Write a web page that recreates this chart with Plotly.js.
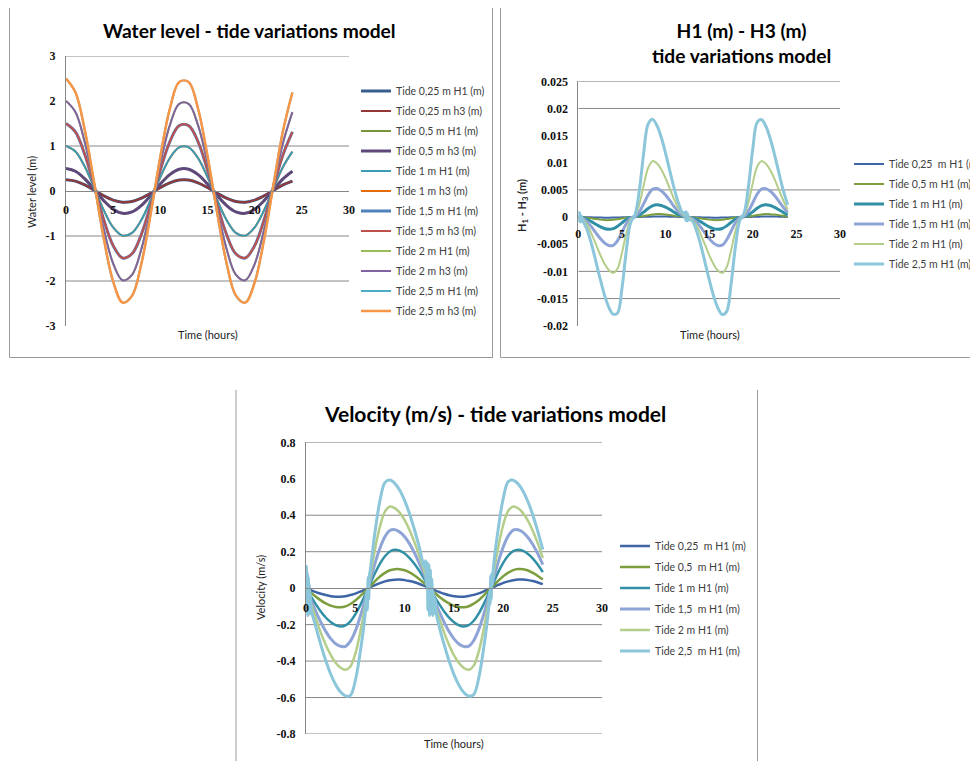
<!DOCTYPE html>
<html><head><meta charset="utf-8">
<script src="https://cdn.plot.ly/plotly-3.0.1.min.js"></script>
<style>html,body{margin:0;padding:0;background:#fff;}#chart{width:970px;height:761px;}</style>
</head><body><div id="chart"></div>
<script>
// ---------------- data ----------------
const xTicks = [0,5,10,15,20,25,30];
const xTickText = ['0','5','10','15','20','25','30'];
const wlTicks = [3,2,1,0,-1,-2,-3];
const wlTickText = ['3','2','1','0','-1','-2','-3'];
const dTicks = [0.025,0.02,0.015,0.01,0.005,0,-0.005,-0.01,-0.015,-0.02];
const dTickText = ['0.025','0.02','0.015','0.01','0.005','0','-0.005','-0.01','-0.015','-0.02'];
const vTicks = [0.8,0.6,0.4,0.2,0,-0.2,-0.4,-0.6,-0.8];
const vTickText = ['0.8','0.6','0.4','0.2','0','-0.2','-0.4','-0.6','-0.8'];
const wlGrid = [3,1,-1,-2];
const dGrid = [0.025,0.02,0.005,-0.01,-0.015];
const vGrid = [0.8,0.4,0.2,-0.2,-0.4,-0.6,-0.8];

const hours = [0,1,2,3,4,5,6,7,8,9,10,11,12,13,14,15,16,17,18,19,20,21,22,23,24];
const halfHours = [0,0.5,1,1.5,2,2.5,3,3.5,4,4.5,5,5.5,6,6.5,7,7.5,8,8.5,9,9.5,10,10.5,11,11.5,12,12.5,13,13.5,14,14.5,15,15.5,16,16.5,17,17.5,18,18.5,19,19.5,20,20.5,21,21.5,22,22.5,23,23.5,24];

// Water level (m)
const wlH1_025 = [0.25,0.219,0.134,0.016,-0.106,-0.202,-0.248,-0.232,-0.159,-0.047,0.077,0.182,0.242,0.242,0.182,0.077,-0.047,-0.159,-0.232,-0.248,-0.202,-0.106,0.016,0.134,0.219];
const wlh3_025 = [0.25,0.219,0.134,0.016,-0.106,-0.202,-0.248,-0.232,-0.159,-0.047,0.077,0.182,0.242,0.242,0.182,0.077,-0.047,-0.159,-0.232,-0.248,-0.202,-0.106,0.016,0.134,0.219];
const wlH1_05 = [0.5,0.438,0.268,0.031,-0.213,-0.405,-0.496,-0.465,-0.319,-0.094,0.155,0.365,0.484,0.484,0.365,0.155,-0.094,-0.319,-0.465,-0.496,-0.405,-0.213,0.031,0.268,0.438];
const wlh3_05 = [0.5,0.438,0.268,0.032,-0.213,-0.405,-0.496,-0.465,-0.319,-0.095,0.155,0.365,0.484,0.484,0.365,0.155,-0.094,-0.319,-0.465,-0.496,-0.405,-0.214,0.031,0.268,0.438];
const wlH1_1 = [1,0.876,0.536,0.063,-0.426,-0.809,-0.992,-0.93,-0.637,-0.187,0.309,0.729,0.969,0.969,0.729,0.309,-0.187,-0.637,-0.93,-0.992,-0.809,-0.426,0.063,0.536,0.876];
const wlh3_1 = [1,0.876,0.537,0.065,-0.424,-0.808,-0.992,-0.93,-0.639,-0.189,0.307,0.728,0.969,0.969,0.73,0.311,-0.185,-0.635,-0.93,-0.992,-0.81,-0.428,0.061,0.535,0.876];
const wlH1_15 = [1.5,1.314,0.804,0.094,-0.639,-1.214,-1.488,-1.395,-0.956,-0.281,0.464,1.094,1.453,1.453,1.094,0.464,-0.281,-0.956,-1.395,-1.488,-1.214,-0.639,0.094,0.804,1.314];
const wlh3_15 = [1.5,1.315,0.807,0.099,-0.634,-1.211,-1.488,-1.396,-0.96,-0.286,0.46,1.092,1.453,1.453,1.096,0.468,-0.276,-0.952,-1.394,-1.488,-1.217,-0.644,0.089,0.801,1.313];
const wlH1_2 = [2,1.753,1.072,0.126,-0.852,-1.618,-1.984,-1.86,-1.275,-0.375,0.618,1.458,1.937,1.937,1.458,0.618,-0.375,-1.275,-1.86,-1.984,-1.618,-0.852,0.126,1.072,1.753];
const wlh3_2 = [2,1.754,1.077,0.135,-0.842,-1.611,-1.984,-1.862,-1.284,-0.385,0.611,1.455,1.937,1.937,1.461,0.625,-0.365,-1.266,-1.857,-1.984,-1.624,-0.862,0.117,1.067,1.752];
const wlH1_25 = [2.5,2.191,1.34,0.157,-1.065,-2.023,-2.48,-2.325,-1.594,-0.469,0.773,1.823,2.422,2.422,1.823,0.773,-0.469,-1.594,-2.325,-2.48,-2.023,-1.065,0.157,1.34,2.191];
const wlh3_25 = [2.5,2.193,1.348,0.171,-1.047,-2.01,-2.479,-2.33,-1.611,-0.486,0.761,1.818,2.421,2.423,1.828,0.784,-0.452,-1.577,-2.319,-2.481,-2.036,-1.083,0.143,1.332,2.189];

// H1 - H3 (m)
const d025 = [0,-0.00001,-0.00002,-0.00005,-0.00007,-0.00009,-0.00011,-0.00011,-0.0001,-0.00007,-0.00004,-0.00002,0,0,0.00001,0.00004,0.00007,0.00009,0.00011,0.00011,0.0001,0.00008,0.00005,0.00003,0.00001,0,-0.00001,-0.00002,-0.00005,-0.00007,-0.0001,-0.00011,-0.00011,-0.00009,-0.00007,-0.00004,-0.00002,0,0,0.00002,0.00004,0.00007,0.00009,0.00011,0.00011,0.0001,0.00007,0.00005,0.00002];
const d05 = [0,-0.00003,-0.00011,-0.00023,-0.00036,-0.00047,-0.00054,-0.00056,-0.0005,-0.00038,-0.00023,-0.0001,-0.00001,0.00001,0.00008,0.00021,0.00035,0.00048,0.00055,0.00055,0.00048,0.00037,0.00024,0.00012,0.00003,0,-0.00003,-0.00011,-0.00023,-0.00036,-0.00047,-0.00054,-0.00056,-0.00049,-0.00037,-0.00022,-0.00009,-0.00001,0.00001,0.00009,0.00022,0.00037,0.00049,0.00056,0.00054,0.00047,0.00036,0.00023,0.00011];
const d10 = [0,-0.00011,-0.0004,-0.00083,-0.00132,-0.00177,-0.0021,-0.00225,-0.00213,-0.00169,-0.00106,-0.00045,-0.00007,0.00003,0.00035,0.00093,0.00157,0.00206,0.00225,0.00214,0.00183,0.00139,0.00089,0.00044,0.00012,0,-0.0001,-0.0004,-0.00084,-0.00134,-0.00179,-0.00212,-0.00225,-0.0021,-0.00163,-0.00099,-0.0004,-0.00005,0.00005,0.0004,0.00099,0.00163,0.0021,0.00225,0.00212,0.00179,0.00134,0.00084,0.0004];
const d15 = [0,-0.00022,-0.00086,-0.00179,-0.00287,-0.00391,-0.00474,-0.00522,-0.00522,-0.00434,-0.00282,-0.00123,-0.00019,0.00008,0.00096,0.00248,0.00407,0.00511,0.00526,0.00485,0.00406,0.00301,0.0019,0.00093,0.00026,0,-0.00021,-0.00085,-0.00179,-0.00289,-0.00396,-0.00479,-0.00524,-0.00517,-0.00421,-0.00265,-0.00109,-0.00013,0.00013,0.00109,0.00265,0.00421,0.00517,0.00524,0.00479,0.00396,0.0029,0.0018,0.00085];
const d20 = [0,-0.00037,-0.00144,-0.00304,-0.00495,-0.00689,-0.00858,-0.00977,-0.01029,-0.00948,-0.0066,-0.00301,-0.00047,0.00021,0.00237,0.00588,0.00904,0.0103,0.00991,0.00881,0.00716,0.0052,0.00324,0.00156,0.00043,0,-0.00035,-0.00142,-0.00305,-0.005,-0.00697,-0.00866,-0.00983,-0.0103,-0.00927,-0.00625,-0.00267,-0.00032,0.00032,0.00268,0.00625,0.00927,0.0103,0.00983,0.00867,0.00697,0.005,0.00305,0.00142];
const d25 = [0,-0.0006,-0.00231,-0.00491,-0.00807,-0.01134,-0.01432,-0.0166,-0.01788,-0.01766,-0.01316,-0.00625,-0.00099,0.00044,0.00494,0.01185,0.01711,0.018,0.0169,0.01473,0.01178,0.00846,0.00522,0.0025,0.00068,0,-0.00056,-0.00228,-0.00492,-0.00814,-0.01147,-0.01447,-0.01673,-0.01794,-0.01741,-0.01251,-0.00559,-0.00069,0.00069,0.00559,0.01251,0.01741,0.01794,0.01673,0.01447,0.01147,0.00813,0.00492,0.00228];
const d25NoiseT = [0.05,0.12,0.19,0.26,0.33,12.25,12.32,12.39,12.46,12.53,12.6];
const d25NoiseV = [0.0009,-0.0008,0.0007,-0.0009,0.0002,0.0009,-0.0006,0.001,-0.0007,0.0006,-0.0005];

// Velocity (m/s)
const vel025 = [0,-0.011,-0.022,-0.031,-0.038,-0.044,-0.047,-0.047,-0.044,-0.038,-0.03,-0.019,-0.007,0.005,0.017,0.028,0.037,0.043,0.046,0.047,0.044,0.039,0.032,0.023,0.012,0.001,-0.011,-0.021,-0.031,-0.039,-0.044,-0.047,-0.047,-0.043,-0.037,-0.029,-0.018,-0.006,0.006,0.018,0.029,0.037,0.043,0.047,0.047,0.044,0.039,0.031,0.022];
const vel05 = [0,-0.024,-0.047,-0.067,-0.084,-0.096,-0.103,-0.105,-0.1,-0.087,-0.068,-0.044,-0.017,0.011,0.039,0.064,0.084,0.098,0.104,0.104,0.098,0.086,0.069,0.049,0.026,0.001,-0.023,-0.047,-0.067,-0.084,-0.097,-0.104,-0.105,-0.099,-0.085,-0.066,-0.041,-0.014,0.014,0.041,0.066,0.085,0.099,0.105,0.104,0.097,0.084,0.067,0.047];
const vel10 = [0,-0.045,-0.089,-0.128,-0.161,-0.186,-0.203,-0.21,-0.204,-0.182,-0.144,-0.094,-0.036,0.024,0.083,0.135,0.175,0.201,0.21,0.205,0.19,0.165,0.132,0.093,0.049,0.002,-0.044,-0.088,-0.128,-0.162,-0.187,-0.204,-0.21,-0.203,-0.179,-0.14,-0.089,-0.03,0.03,0.089,0.14,0.179,0.203,0.21,0.204,0.187,0.162,0.128,0.088];
const vel15 = [0,-0.066,-0.129,-0.187,-0.237,-0.277,-0.305,-0.319,-0.319,-0.291,-0.235,-0.155,-0.06,0.04,0.137,0.22,0.282,0.316,0.321,0.308,0.282,0.243,0.193,0.135,0.071,0.003,-0.064,-0.129,-0.187,-0.238,-0.278,-0.306,-0.32,-0.318,-0.287,-0.228,-0.146,-0.05,0.05,0.146,0.228,0.287,0.318,0.32,0.306,0.278,0.238,0.188,0.129];
const vel20 = [0,-0.085,-0.167,-0.244,-0.311,-0.366,-0.409,-0.436,-0.448,-0.43,-0.359,-0.242,-0.095,0.064,0.215,0.339,0.42,0.448,0.439,0.414,0.373,0.318,0.251,0.174,0.091,0.004,-0.082,-0.166,-0.244,-0.312,-0.369,-0.411,-0.438,-0.448,-0.425,-0.349,-0.228,-0.08,0.08,0.228,0.349,0.425,0.448,0.438,0.411,0.369,0.312,0.244,0.166];
const vel25 = [0,-0.108,-0.213,-0.31,-0.397,-0.471,-0.529,-0.57,-0.591,-0.588,-0.507,-0.35,-0.139,0.093,0.311,0.481,0.579,0.593,0.575,0.537,0.48,0.407,0.319,0.221,0.115,0.006,-0.105,-0.211,-0.31,-0.399,-0.474,-0.532,-0.572,-0.592,-0.584,-0.495,-0.331,-0.116,0.116,0.331,0.495,0.584,0.592,0.572,0.532,0.474,0.399,0.31,0.211];
const vel25NoiseT = [0.04,0.09,0.14,0.19,0.24,0.29,0.34,0.39,0.44,6.15,6.22,6.29,6.36,6.43,12.12,12.2,12.28,12.36,12.44,12.52,12.6,12.68,12.76,12.84,12.92,13.0,13.1,13.18,18.6,18.66,18.72,18.78,18.84,18.9];
const vel25NoiseV = [0.12,-0.13,0.08,-0.15,0.06,-0.12,0.02,-0.14,-0.03,-0.02,-0.12,0.06,-0.06,0.07,0.15,0.02,0.14,-0.12,0.13,-0.15,0.1,-0.14,0.05,-0.15,-0.02,-0.14,-0.06,-0.13,-0.02,-0.09,0.07,-0.06,0.08,0.02];

// ---------------- build ----------------
function withNoise(t, v, nt, nv) {
  const pts = t.map((x, i) => [x, v[i]]).concat(nt.map((x, i) => [x, nv[i]]));
  pts.sort((a, b) => a[0] - b[0]);
  return { x: pts.map(p => p[0]), y: pts.map(p => p[1]) };
}

const W = 970, H = 761;
const px = v => v / W;
const py = v => 1 - v / H;

const traces = [];
function addLine(x, y, name, color, width, xa, ya, legend, rank) {
  traces.push({
    type: 'scatter', mode: 'lines', x: x, y: y, name: name,
    line: { color: color, width: width, shape: 'spline', smoothing: 1 },
    xaxis: xa, yaxis: ya, legend: legend, legendgroup: legend + '_' + rank, legendrank: rank,
    hoverinfo: 'skip'
  });
}

// Chart 1 (draw order places teal 1 m curve above orange)
addLine(hours, wlH1_025, 'Tide 0,25 m H1 (m)', '#3A5E8C', 3, 'x', 'y', 'legend', 1);
addLine(hours, wlh3_025, 'Tide 0,25 m h3 (m)', '#953735', 2, 'x', 'y', 'legend', 2);
addLine(hours, wlH1_05, 'Tide 0,5 m H1 (m)', '#77933C', 2, 'x', 'y', 'legend', 3);
addLine(hours, wlh3_05, 'Tide 0,5 m h3 (m)', '#5F497A', 3, 'x', 'y', 'legend', 4);
addLine(hours, wlh3_1, 'Tide 1 m h3 (m)', '#E46C0A', 2, 'x', 'y', 'legend', 6);
addLine(hours, wlH1_1, 'Tide 1 m H1 (m)', '#3A9CB4', 2, 'x', 'y', 'legend', 5);
addLine(hours, wlH1_15, 'Tide 1,5 m H1 (m)', '#4F81BD', 3, 'x', 'y', 'legend', 7);
addLine(hours, wlh3_15, 'Tide 1,5 m h3 (m)', '#C0504D', 2, 'x', 'y', 'legend', 8);
addLine(hours, wlH1_2, 'Tide 2 m H1 (m)', '#9BBB59', 2, 'x', 'y', 'legend', 9);
addLine(hours, wlh3_2, 'Tide 2 m h3 (m)', '#8064A2', 2, 'x', 'y', 'legend', 10);
addLine(hours, wlH1_25, 'Tide 2,5 m H1 (m)', '#4BACC6', 2, 'x', 'y', 'legend', 11);
addLine(hours, wlh3_25, 'Tide 2,5 m h3 (m)', '#F79646', 2.5, 'x', 'y', 'legend', 12);

// Chart 2
const d25All = withNoise(halfHours, d25, d25NoiseT, d25NoiseV);
addLine(halfHours, d025, 'Tide 0,25  m H1 (m)', '#3E65A6', 2, 'x2', 'y2', 'legend2', 1);
addLine(halfHours, d05, 'Tide 0,5 m H1 (m)', '#7C9E3E', 2, 'x2', 'y2', 'legend2', 2);
addLine(halfHours, d10, 'Tide 1 m H1 (m)', '#3290A6', 3, 'x2', 'y2', 'legend2', 3);
addLine(halfHours, d15, 'Tide 1,5 m H1 (m)', '#8FA4D6', 3, 'x2', 'y2', 'legend2', 4);
addLine(halfHours, d20, 'Tide 2 m H1 (m)', '#B4CE8A', 2, 'x2', 'y2', 'legend2', 5);
addLine(d25All.x, d25All.y, 'Tide 2,5 m H1 (m)', '#8CC6DA', 3, 'x2', 'y2', 'legend2', 6);

// Chart 3
const v25All = withNoise(halfHours, vel25, vel25NoiseT, vel25NoiseV);
addLine(halfHours, vel025, 'Tide 0,25  m H1 (m)', '#3E65A6', 2.5, 'x3', 'y3', 'legend3', 1);
addLine(halfHours, vel05, 'Tide 0,5  m H1 (m)', '#7C9E3E', 2.5, 'x3', 'y3', 'legend3', 2);
addLine(halfHours, vel10, 'Tide 1 m H1 (m)', '#3290A6', 2.5, 'x3', 'y3', 'legend3', 3);
addLine(halfHours, vel15, 'Tide 1,5  m H1 (m)', '#8FA4D6', 3, 'x3', 'y3', 'legend3', 4);
addLine(halfHours, vel20, 'Tide 2 m H1 (m)', '#B4CE8A', 2.5, 'x3', 'y3', 'legend3', 5);
addLine(v25All.x, v25All.y, 'Tide 2,5  m H1 (m)', '#8CC6DA', 3, 'x3', 'y3', 'legend3', 6);

const gridColor = '#878787';
const tickFont = { family: 'Liberation Serif', size: 12, color: '#111' };
function xAxis(d0, d1, zeroPy, showLine) {
  return { domain: [px(d0), px(d1)], range: [0, 30], anchor: 'free', position: py(zeroPy),
    showline: showLine, linecolor: gridColor, linewidth: 1, showgrid: false, zeroline: false,
    tickmode: 'array', tickvals: xTicks, ticktext: xTickText, ticks: '', ticklabelstandoff: 8,
    tickfont: Object.assign({}, tickFont, { weight: 'bold' }), fixedrange: true };
}
function yAxis(top, bottom, range, tv, tt, anchor) {
  return { domain: [py(bottom), py(top)], range: range, anchor: anchor,
    showline: true, linecolor: gridColor, linewidth: 1, showgrid: false, zeroline: false,
    tickmode: 'array', tickvals: tv, ticktext: tt, ticks: '', ticklabelstandoff: 7,
    tickfont: Object.assign({}, tickFont, { weight: 'bold' }), fixedrange: true };
}

const shapes = [];
function grid(vals, xr, yr) {
  vals.forEach(v => shapes.push({ type: 'line', xref: xr, yref: yr, x0: 0, x1: 30, y0: v, y1: v,
    line: { color: gridColor, width: 1 }, layer: 'below' }));
}
grid(wlGrid, 'x', 'y');
grid(dGrid, 'x2', 'y2');
grid(vGrid, 'x3', 'y3');
function border(x0, y0, x1, y1) {
  shapes.push({ type: 'line', xref: 'paper', yref: 'paper', x0: px(x0), y0: py(y0), x1: px(x1), y1: py(y1),
    line: { color: '#9a9a9a', width: 1 } });
}
border(9.5, 8, 9.5, 357.5); border(9.5, 357.5, 493, 357.5); border(492.5, 8, 492.5, 357.5);
border(500.5, 8, 500.5, 357.5); border(500.5, 357.5, 970, 357.5);
border(236, 390, 236, 761); border(757.5, 390, 757.5, 761);

const titleFont12 = { family: 'Lato', size: 19.2, color: '#000', weight: 'bold' };
const titleFont3 = { family: 'Lato', size: 21, color: '#000', weight: 'bold' };
const axTitleFont = { family: 'Lato', size: 11, color: '#222' };
function ann(text, x, y, font, angle) {
  return { text: text, xref: 'paper', yref: 'paper', x: px(x), y: py(y), xanchor: 'center', yanchor: 'middle',
    showarrow: false, font: font, textangle: angle || 0 };
}
const annotations = [
  ann('<b>Water level - tide variations model</b>', 250, 31, titleFont12),
  ann('<b>H1 (m) - H3 (m)<br>tide variations model</b>', 741, 43, titleFont12),
  ann('<b>Velocity (m/s) - tide variations model</b>', 495, 414, titleFont3),
  ann('Time (hours)', 208, 335, axTitleFont),
  ann('Water level (m)', 32, 192, axTitleFont, -90),
  ann('Time (hours)', 710, 335, axTitleFont),
  ann('<b>H<sub>1</sub> - H<sub>3</sub> (m)</b>', 522, 206, axTitleFont, -90),
  ann('Time (hours)', 454, 743, axTitleFont),
  ann('Velocity (m/s)', 260, 588, axTitleFont, -90)
];

const legFont = { family: 'Lato', size: 10.5, color: '#404040' };
function leg(x, y, gap) {
  return { x: px(x), y: py(y), xanchor: 'left', yanchor: 'top', bgcolor: 'rgba(0,0,0,0)', borderwidth: 0,
    font: legFont, traceorder: 'grouped', tracegroupgap: gap, itemclick: false, itemdoubleclick: false };
}

const layout = {
  width: W, height: H, margin: { l: 0, r: 0, t: 0, b: 0, autoexpand: false },
  paper_bgcolor: '#fff', plot_bgcolor: 'rgba(0,0,0,0)', showlegend: true, hovermode: false,
  xaxis: xAxis(66, 349, 191, true),
  yaxis: yAxis(56, 326, [-3, 3], wlTicks, wlTickText, 'x'),
  xaxis2: xAxis(578.3, 840, 217, false),
  yaxis2: yAxis(81.3, 325.7, [-0.02, 0.025], dTicks, dTickText, 'x2'),
  xaxis3: xAxis(306, 602, 588.3, true),
  yaxis3: yAxis(442.3, 734, [-0.8, 0.8], vTicks, vTickText, 'x3'),
  legend: leg(356, 76.5, 1),
  legend2: leg(849, 149.5, 1),
  legend3: leg(615, 531.5, 2),
  shapes: shapes, annotations: annotations
};

Plotly.newPlot('chart', traces, layout, { displayModeBar: false, staticPlot: true });
</script>
</body></html>
